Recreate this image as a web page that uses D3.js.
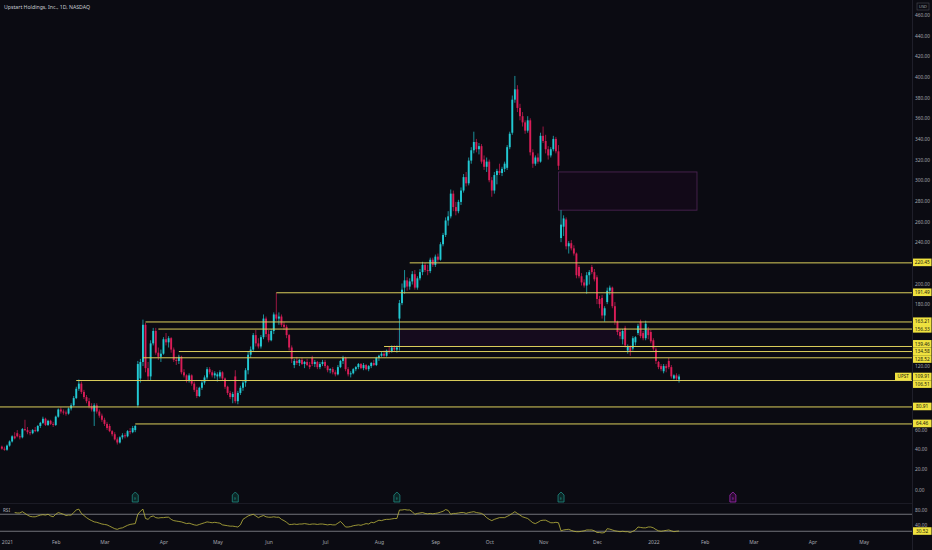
<!DOCTYPE html>
<html>
<head>
<meta charset="utf-8">
<script src="https://cdn.jsdelivr.net/npm/d3@7"></script>
<style>
  html, body { margin: 0; padding: 0; background: #0b0b12; }
  svg { display: block; font-family: "Noto Sans", "DejaVu Sans", sans-serif; }
</style>
</head>
<body>
<div id="vis"></div>
<script>
var title = "Upstart Holdings, Inc., 1D, NASDAQ";
var firstDay = "2020-12-30", lastDay = "2022-05-31";
var holidays = ["2021-01-01","2021-01-18","2021-02-15","2021-04-02","2021-05-31","2021-07-05",
  "2021-09-06","2021-11-25","2021-12-24","2022-01-17","2022-02-21","2022-04-15","2022-05-30"];
var monthLabels = ["2021","Feb","Mar","Apr","May","Jun","Jul","Aug","Sep","Oct","Nov","Dec",
  "2022","Feb","Mar","Apr","May"];

// daily candles, one per trading day from 2020-12-30
var opens = [42,40,39,43,47,52,55,52,51,59, 58,56,55,58,57,62,65,69,63,67,
  64,63,71,78,76,75,74,79,82,89, 98,103,95,90,86,81,76,82,76,72,
  68,64,62,57,54,49,46,51,53,52, 57,56,58,82,108,124,160,118,110,142,
  154,133,129,132,146,143,147,136,126,125, 129,114,111,106,111,103,97,91,99,104,
  109,117,114,111,110,110,114,108,100,94, 90,110,86,94,99,104,116,131,136,150,
  142,139,148,166,151,145,154,170,166,168, 160,158,150,138,121,125,123,126,122,124,
  121,128,122,124,119,122,124,120,116,117, 114,112,119,125,128,117,112,113,117,119,
  122,118,121,117,120,123,121,128,130,132, 130,135,134,138,136,166,181,196,203,197,
  202,209,196,205,211,218,213,212,223,218, 226,223,238,247,261,265,287,274,270,279,
  290,303,297,319,329,337,330,333,320,313, 318,300,290,305,309,307,311,312,332,346,
  378,388,370,362,356,348,358,327,316,322, 318,343,338,330,324,330,340,328,244,255,
  262,236,239,234,229,216,207,201,198,208, 216,211,206,185,186,169,182,193,196,178,
  163,153,146,157,135,139,137,143,152,163, 152,147,155,153,145,136,124,120,115,120,
  125,119,108,111,107];
var highs = [43,42,44,48,53,56,58,54,60,68, 61,58,59,61,63,66,71,70,68,68,
  66,72,79,80,78,77,80,84,91,100, 107,105,97,92,89,84,84,84,78,74,
  70,66,64,58,56,51,52,55,55,58, 60,62,63,125,127,165,162,124,145,157,
  157,138,136,148,152,149,148,138,129,131, 130,117,112,113,112,105,100,100,106,111,
  119,119,116,115,114,116,115,109,101,96, 95,116,96,101,106,118,134,139,152,155,
  147,150,170,168,155,156,172,191,172,170, 163,160,151,140,127,129,127,128,125,127,
  124,130,126,125,124,126,126,121,118,119, 116,121,126,130,129,119,115,118,120,123,
  123,123,122,121,124,126,129,131,134,135, 136,139,140,140,140,184,200,213,206,205,
  212,213,207,214,221,220,218,225,225,228, 229,240,249,264,270,291,290,279,281,293,
  306,308,322,332,347,340,336,335,324,322, 320,303,308,311,316,313,318,334,347,382,
  401,392,374,366,358,362,360,330,324,326, 346,352,344,333,332,343,342,334,271,266,
  264,241,242,237,230,218,210,204,211,213, 218,214,208,188,189,178,196,198,197,182,
  164,156,156,159,141,140,149,149,161,165, 154,164,158,155,147,138,125,122,122,122,
  128,121,112,113,112];
var lows = [39,38,38,42,46,49,51,49,50,57, 54,53,54,56,56,60,64,62,62,63,
  61,62,70,74,73,72,73,77,81,88, 96,93,88,84,79,76,62,74,70,66,
  62,58,56,52,48,44,45,49,50,51, 54,55,56,80,104,120,114,106,106,140,
  131,126,124,131,140,138,133,124,121,122, 112,109,104,104,101,95,89,90,97,102,
  107,112,109,108,105,108,106,98,92,88, 84,84,83,92,96,100,112,128,134,139,
  137,137,146,148,143,144,151,164,160,158, 155,147,135,123,118,121,120,121,118,120,
  117,120,119,117,117,120,118,114,113,112, 110,111,118,122,115,110,109,112,115,117,
  117,116,116,115,118,120,120,125,129,129, 129,132,133,134,133,135,179,190,193,194,
  199,194,194,203,208,211,208,210,216,216, 221,222,236,245,256,263,270,266,268,276,
  288,294,295,316,326,327,325,316,310,308, 298,284,287,296,305,304,308,310,330,344,
  375,366,358,352,345,346,324,312,314,316, 317,336,326,320,322,328,326,310,240,246,
  233,229,232,227,205,205,198,196,190,199, 209,202,180,176,166,163,180,189,176,160,
  150,146,141,138,132,130,135,140,150,147, 145,145,146,142,135,122,117,115,113,114,
  117,108,107,106,104];
var closes = [40,39,43,47,52,50,52,51,59,58, 56,55,58,57,62,65,69,63,67,64,
  63,71,78,76,75,74,79,82,89,98, 103,95,90,86,81,78,82,76,72,68,
  64,60,57,54,49,46,51,53,52,57, 56,60,62,122,124,160,118,110,142,154,
  133,129,132,146,143,147,136,126,125,129, 114,111,106,111,103,97,91,99,104,109,
  117,114,111,113,112,114,108,100,94,90, 93,86,94,99,104,116,131,136,150,142,
  139,148,166,151,145,154,170,166,168,160, 158,150,138,127,125,123,126,122,124,121,
  119,122,124,119,122,124,120,116,117,114, 112,119,125,128,117,112,113,117,119,122,
  118,121,117,120,123,121,128,130,132,130, 135,134,138,136,138,181,194,203,197,202,
  209,196,205,211,218,213,212,223,218,226, 223,238,247,261,265,287,274,270,279,290,
  303,297,319,329,337,330,333,318,313,318, 300,290,305,309,307,311,316,332,345,378,
  388,370,362,356,348,358,327,316,322,318, 343,338,330,324,330,340,328,314,257,263,
  236,239,234,229,208,207,201,198,208,211, 211,204,185,180,169,176,193,196,178,163,
  153,149,154,140,139,134,147,148,159,149, 147,161,150,144,137,125,119,117,120,118,
  119,110,111,108,109.91];
var rsi = [null,null,null,null,null,74,73,73,76,72, 68,65,64,64,66,68,69,68,70,66,
  64,70,74,72,70,67,68,68,74,80, 82,72,67,62,58,55,52,51,49,47,
  46,45,42,39,36,34.5,37,38,41,44, 46,47,48,70,77,82,60,58,64,66,
  62,61,62,62,63,63,58,55,54,53, 52,50,48,49,47,45,44,46,48,50,
  52,51,50,51,50,49,45,44,43,42, 42,41,40,45,58,62,66,68,70,66,
  62,65,67,64,63,63,64,63,63,58, 55,51,46,46,47,46,47,47,48,47,
  46,47,47,46,47,47,46,45,46,45, 45,49,53,47,40,40,41,43,44,45,
  44,46,48,47,51,50,53,56,55,57, 58,58,59,60,60,80,80,81,80,80,
  76,70,72,73,74,72,71,72,71,72, 73,75,77,81,79,70,72,72,73,74,
  74,72,74,75,76,74,73,72,68,62, 58,55,58,60,62,62,62,65,68,72,
  76,72,68,64,62,60,55,50,48,51, 55,56,56,53,50,50,51,50,31,33,
  34,34.5,32,30,29,29,30,31,33,33, 33,31,27,27,26,27,36,35,33,31,
  30,29,30,29,29,27,30,33,40,39, 38,38,40,40,38,34,31,30,31,32,
  33,31,29,30,30.52];

// horizontal levels drawn on the chart and the day each one starts
var levelPrices = [220.45, 191.49, 163.21, 156.33, 139.46, 134.58, 128.52, 106.51, 80.91, 64.46];
var levelStarts = ["2021-08-18","2021-06-04","2021-03-23","2021-03-30","2021-08-04",
  "2021-04-12","2021-03-22","2021-02-11", null,"2021-03-17"];
var zoneDates = ["2021-11-09","2022-01-27"], zonePrices = [271, 308];
var bandDates = ["2021-08-11","2021-12-14"], bandPrices = [139.46, 156.33];
var earningsDates = ["2021-03-17","2021-05-12","2021-08-11","2021-11-10","2022-02-16"];
var priceTicks = d3.range(0, 461, 20);
var rsiTicks = [40, 80], rsiBands = [70, 30];

// trading calendar
var parse = d3.timeParse("%Y-%m-%d"), fmt = d3.timeFormat("%Y-%m-%d");
var days = [];
for (var dd = parse(firstDay); dd <= parse(lastDay); dd = d3.timeDay.offset(dd, 1)) {
  var wd = dd.getDay();
  if (wd === 0 || wd === 6 || holidays.indexOf(fmt(dd)) >= 0) continue;
  days.push(fmt(dd));
}
function dayIdx(s) { return days.indexOf(s); }
var monthPos = [];
days.forEach(function(s, i) { if (i > 0 && s.slice(5, 7) !== days[i - 1].slice(5, 7)) monthPos.push(i); });

var W = 932, H = 550, paneR = 912;
var up = "#22c9d3", down = "#d91d57", lvl = "#dccf5c", tag = "#efe23f";

var svg = d3.select('#vis').append('svg').attr('width', W).attr('height', H);
svg.append('rect').attr('width', W).attr('height', H).attr('fill', '#0b0b12');
var defs = svg.append('defs');
defs.append('clipPath').attr('id', 'cp').append('rect').attr('width', paneR).attr('height', 503);
defs.append('clipPath').attr('id', 'cr').append('rect').attr('y', 504).attr('width', paneR).attr('height', 34);

var x = d3.scaleLinear().domain([-0.73, 354.83]).range([0, paneR]);
var y = d3.scaleLinear().domain([0, 460]).range([490, 15]);
var yr = d3.scaleLinear().domain([0, 100]).range([544, 501.5]);

var gp = svg.append('g').attr('clip-path', 'url(#cp)');

// shaded zones
gp.append('rect')
  .attr('x', x(dayIdx(bandDates[0]))).attr('width', x(dayIdx(bandDates[1])) - x(dayIdx(bandDates[0])))
  .attr('y', y(bandPrices[1])).attr('height', y(bandPrices[0]) - y(bandPrices[1]))
  .attr('fill', '#150b1d');
gp.append('rect')
  .attr('x', x(dayIdx(zoneDates[0]))).attr('width', x(dayIdx(zoneDates[1])) - x(dayIdx(zoneDates[0])))
  .attr('y', y(zonePrices[1])).attr('height', y(zonePrices[0]) - y(zonePrices[1]))
  .attr('fill', '#120918').attr('stroke', '#4a2350').attr('stroke-width', 0.9);

var bars = opens.map(function(o, i) {
  return {i: i, o: o, h: highs[i], l: lows[i], c: closes[i]};
});

gp.selectAll('line.wick')
  .data(bars).enter().append('line')
  .attr('class', 'wick')
  .attr('x1', function(d) { return x(d.i); })
  .attr('x2', function(d) { return x(d.i); })
  .attr('y1', function(d) { return y(d.h); })
  .attr('y2', function(d) { return y(d.l); })
  .attr('stroke', function(d) { return d.c >= d.o ? up : down; })
  .attr('stroke-width', 0.7);

gp.selectAll('rect.body')
  .data(bars).enter().append('rect')
  .attr('class', 'body')
  .attr('x', function(d) { return x(d.i) - 0.95; })
  .attr('width', 1.9)
  .attr('y', function(d) { return y(Math.max(d.o, d.c)); })
  .attr('height', function(d) { return Math.max(0.8, Math.abs(y(d.o) - y(d.c))); })
  .attr('fill', function(d) { return d.c >= d.o ? up : down; });

// levels
gp.selectAll('line.level')
  .data(levelPrices).enter().append('line')
  .attr('class', 'level')
  .attr('x1', function(d, i) { return levelStarts[i] ? x(dayIdx(levelStarts[i])) : 0; })
  .attr('x2', paneR)
  .attr('y1', function(d) { return y(d) + 0.5; })
  .attr('y2', function(d) { return y(d) + 0.5; })
  .attr('stroke', lvl).attr('stroke-width', 1);

// pane separators
svg.append('line').attr('x1', 0).attr('x2', paneR).attr('y1', 503.5).attr('y2', 503.5)
  .attr('stroke', '#1b1b25');
svg.append('line').attr('x1', paneR + 0.5).attr('x2', paneR + 0.5).attr('y1', 0).attr('y2', H)
  .attr('stroke', '#1f1f2a');

// earnings markers
var lastDate = days[closes.length - 1];
var em = svg.selectAll('g.earn').data(earningsDates).enter().append('g')
  .attr('class', 'earn')
  .attr('transform', function(d) { return 'translate(' + x(dayIdx(d)) + ',0)'; });
em.append('path')
  .attr('d', 'M-3,495L0,492L3,495L3,502L-3,502Z')
  .attr('stroke-linejoin', 'round').attr('stroke-width', 0.8)
  .attr('fill', function(d) { return d > lastDate ? '#2a0c31' : '#0c2626'; })
  .attr('stroke', function(d) { return d > lastDate ? '#a229b5' : '#1f8a82'; });
em.append('text').attr('y', 500.3).attr('text-anchor', 'middle').attr('font-size', 3.6)
  .attr('fill', function(d) { return d > lastDate ? '#a229b5' : '#1f8a82'; })
  .text('E');

// RSI pane
var gr = svg.append('g').attr('clip-path', 'url(#cr)');
gr.selectAll('line.band').data(rsiBands).enter().append('line')
  .attr('x1', 0).attr('x2', paneR)
  .attr('y1', function(d) { return yr(d); }).attr('y2', function(d) { return yr(d); })
  .attr('stroke', '#8d8e96').attr('stroke-width', 0.8);
gr.append('path')
  .datum(rsi)
  .attr('fill', 'none').attr('stroke', '#bdb63f').attr('stroke-width', 0.8)
  .attr('d', d3.line()
    .defined(function(d) { return d !== null; })
    .x(function(d, i) { return x(i); })
    .y(function(d) { return yr(d); }));
svg.append('text').attr('x', 3).attr('y', 512).attr('font-size', 4.6).attr('fill', '#b0b3bb').text('RSI');

// time axis
var xa = svg.append('g').attr('transform', 'translate(0,538)')
  .call(d3.axisBottom(x).tickValues(monthPos).tickSize(0).tickPadding(2.5)
    .tickFormat(function(d, i) { return monthLabels[i]; }));
xa.select('.domain').remove();
xa.selectAll('text').attr('font-size', 5).attr('fill', '#a3a6ae').attr('font-family', '"Noto Sans", sans-serif');

// price tags on the scale; the last price stays put, the others move apart
var lastClose = closes[closes.length - 1];
var tags = levelPrices.map(function(v) { return {v: v, ty: y(v)}; });
tags.push({v: lastClose, ty: y(lastClose), last: true});
tags.sort(function(a, b) { return a.ty - b.ty; });
for (var k = 0; k < 80; k++) {
  for (var j = 1; j < tags.length; j++) {
    var a = tags[j - 1], b = tags[j], gap = b.ty - a.ty;
    if (gap >= 7.6) continue;
    if (a.last) b.ty += 7.6 - gap;
    else if (b.last) a.ty -= 7.6 - gap;
    else { b.ty += (7.6 - gap) / 2; a.ty -= (7.6 - gap) / 2; }
  }
}
tags.push({v: rsi[rsi.length - 1], ty: yr(rsi[rsi.length - 1])});

// price and RSI scales; labels under a tag are hidden, labels touching one are nudged
function scaleLabels(scale, ticks) {
  var g = svg.append('g').attr('transform', 'translate(' + paneR + ',0)')
    .call(d3.axisRight(scale).tickValues(ticks).tickSize(0).tickPadding(3).tickFormat(d3.format('.2f')));
  g.select('.domain').remove();
  g.selectAll('text').attr('font-size', 4.8).attr('fill', '#a3a6ae').attr('font-family', '"Noto Sans", sans-serif');
  g.selectAll('.tick').each(function(v) {
    var t = d3.select(this).select('text'), ty = scale(v), off = 0, hide = false;
    tags.forEach(function(tg) {
      var dist = ty - tg.ty;
      if (Math.abs(dist) <= 3.8) hide = true;
      else if (Math.abs(dist) < 6.4) off = (dist > 0 ? 1 : -1) * (6.4 - Math.abs(dist));
    });
    if (hide) t.remove(); else t.attr('y', off);
  });
}
scaleLabels(y, priceTicks);
scaleLabels(yr, rsiTicks);

var tg = svg.selectAll('g.tag').data(tags).enter().append('g')
  .attr('class', 'tag')
  .attr('transform', function(d) { return 'translate(' + (paneR + 1) + ',' + d.ty + ')'; });
tg.append('rect').attr('x', 0).attr('y', -3.8).attr('width', 18.5).attr('height', 7.6).attr('fill', tag);
tg.append('text').attr('x', 9.2).attr('y', 1.7).attr('text-anchor', 'middle')
  .attr('font-size', 4.8).attr('fill', '#1a1a10')
  .text(function(d) { return d3.format('.2f')(d.v); });

var lastTag = tags.filter(function(d) { return d.last; })[0];
svg.append('rect').attr('x', 895).attr('y', lastTag.ty - 3.8).attr('width', 16.5).attr('height', 7.6).attr('fill', tag);
svg.append('text').attr('x', 903.2).attr('y', lastTag.ty + 1.7).attr('text-anchor', 'middle')
  .attr('font-size', 4.6).attr('fill', '#1a1a10').text('UPST');

// header
svg.append('text').attr('x', 4).attr('y', 9).attr('font-size', 5.2).attr('fill', '#c9ccd4').text(title);
svg.append('rect').attr('x', 917).attr('y', 3).attr('width', 12).attr('height', 7)
  .attr('fill', 'none').attr('stroke', '#4a4c55').attr('stroke-width', 0.6);
svg.append('text').attr('x', 923).attr('y', 8.2).attr('text-anchor', 'middle')
  .attr('font-size', 4).attr('fill', '#a3a6ae').text('USD');
</script>
</body>
</html>
